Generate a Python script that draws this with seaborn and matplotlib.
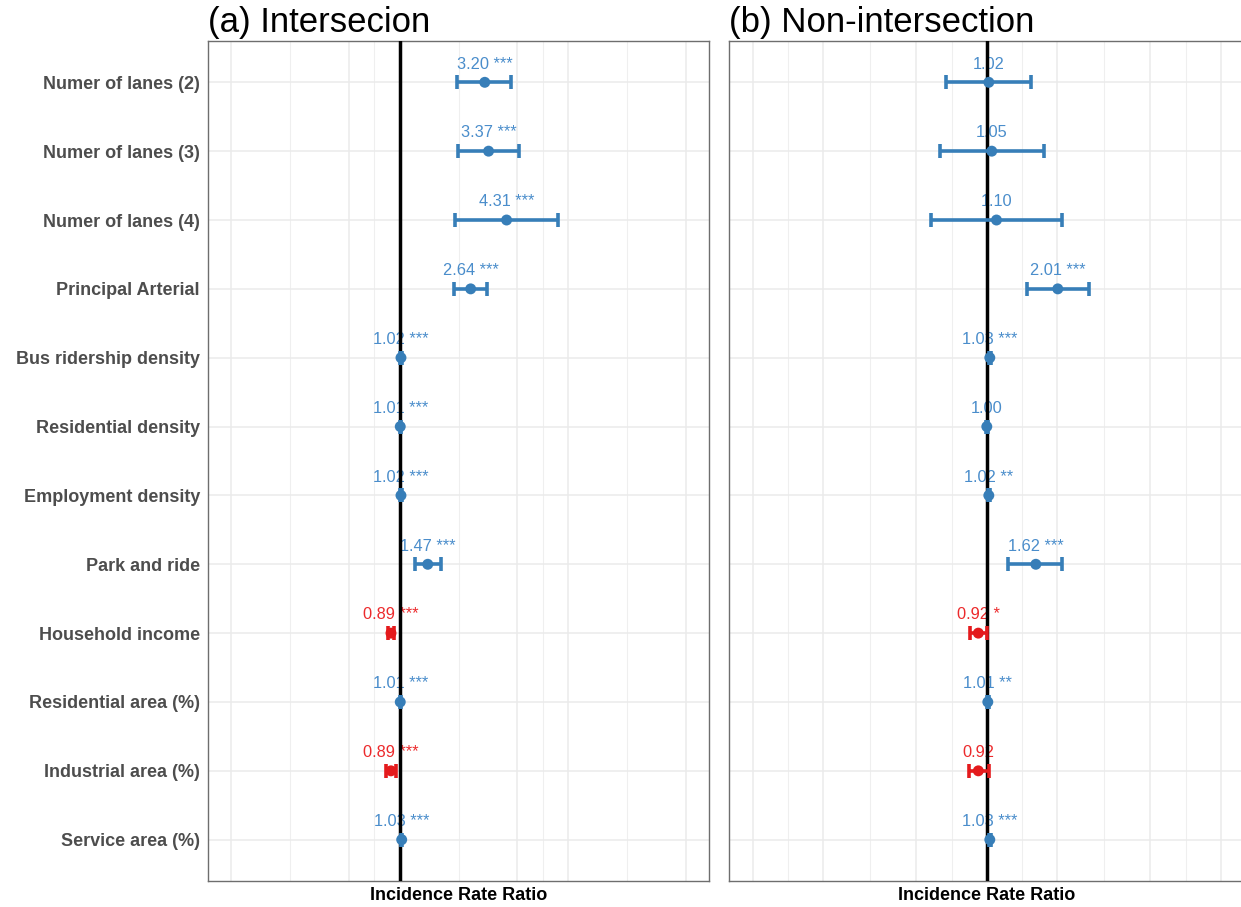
import numpy as np
import pandas as pd
import matplotlib
matplotlib.use("Agg")
import matplotlib.pyplot as plt
from matplotlib.ticker import FixedLocator, NullFormatter
import seaborn as sns

# Model terms (top to bottom)
variables = [
    "Numer of lanes (2)", "Numer of lanes (3)", "Numer of lanes (4)",
    "Principal Arterial", "Bus ridership density", "Residential density",
    "Employment density", "Park and ride", "Household income",
    "Residential area (%)", "Industrial area (%)", "Service area (%)",
]

# (a) Intersection model: incidence rate ratios with 95% CI
int_irr = [3.20, 3.37, 4.31, 2.64, 1.02, 1.01, 1.02, 1.47, 0.89, 1.01, 0.89, 1.03]
int_low = [2.20, 2.23, 2.13, 2.10, 1.01, 1.00, 1.01, 1.23, 0.85, 1.00, 0.83, 1.02]
int_high = [4.59, 5.08, 8.66, 3.30, 1.03, 1.02, 1.03, 1.75, 0.93, 1.02, 0.95, 1.04]
int_sig = ["***", "***", "***", "***", "***", "***", "***", "***", "***", "***", "***", "***"]

# (b) Non-intersection model
non_irr = [1.02, 1.05, 1.10, 2.01, 1.03, 1.00, 1.02, 1.62, 0.92, 1.01, 0.92, 1.03]
non_low = [0.67, 0.63, 0.58, 1.48, 1.02, 0.99, 1.01, 1.23, 0.85, 1.00, 0.84, 1.02]
non_high = [1.54, 1.75, 2.10, 2.72, 1.04, 1.01, 1.03, 2.10, 1.00, 1.02, 1.02, 1.04]
non_sig = ["", "", "", "***", "***", "", "**", "***", "*", "**", "", "***"]

titles = ["(a) Intersecion", "(b) Non-intersection"]
x_label = "Incidence Rate Ratio"

POINT = {"up": "#377EB8", "down": "#E41A1C"}
TEXT = {"up": "#4A8DCB", "down": "#EC2A2C"}

sns.set_theme(style="white")
plt.rcParams["font.family"] = ["Liberation Sans", "DejaVu Sans"]

W, H = 1241, 907
fig = plt.figure(figsize=(W / 100, H / 100), dpi=100)
ax_a = fig.add_axes([208 / W, 26 / H, 501 / W, 840 / H])
ax_b = fig.add_axes([729.3 / W, 26 / H, 515 / W, 840 / H])


def log_limits(lo, hi, pad=0.05):
    a, b = np.log10(lo), np.log10(hi)
    span = b - a
    return 10 ** (a - pad * span), 10 ** (b + pad * span)


def forest(ax, irr, low, high, sig, limits, majors, title, show_y, label_x):
    n = len(variables)
    df = pd.DataFrame({
        "term": variables,
        "row": np.arange(n),
        "irr": irr,
        "low": low,
        "high": high,
        "sig": sig,
    })
    df["dir"] = np.where(df["irr"] < 1, "down", "up")

    ax.set_xscale("log")
    ax.set_xlim(*log_limits(*limits))
    ax.set_ylim(n - 1 + 0.6, -0.6)

    # log-space midpoints between major breaks act as minor grid lines
    lm = np.log10(majors)
    minors = 10 ** ((lm[:-1] + lm[1:]) / 2)
    ax.xaxis.set_major_locator(FixedLocator(majors))
    ax.xaxis.set_minor_locator(FixedLocator(minors))
    ax.xaxis.set_major_formatter(NullFormatter())
    ax.xaxis.set_minor_formatter(NullFormatter())
    ax.grid(True, which="major", axis="both", color="#EBEBEB", lw=1.1, zorder=0)
    ax.grid(True, which="minor", axis="x", color="#EFEFEF", lw=0.8, zorder=0)
    ax.set_axisbelow(True)
    ax.tick_params(axis="x", which="both", length=0, labelbottom=False)

    ax.set_yticks(df["row"])
    if show_y:
        ax.set_yticklabels(df["term"], fontsize=13, fontweight="bold", color="#4D4D4D")
        ax.tick_params(axis="y", length=3.6, width=0.8, color="#555555", pad=2.2)
    else:
        ax.set_yticklabels([])
        ax.tick_params(axis="y", length=0)

    ax.axvline(1, color="black", lw=2.5, zorder=3)

    for d, g in df.groupby("dir"):
        ax.errorbar(g["irr"], g["row"],
                    xerr=[g["irr"] - g["low"], g["high"] - g["irr"]],
                    fmt="none", ecolor=POINT[d], elinewidth=2.6,
                    capsize=5, capthick=2.6, zorder=4)

    sns.scatterplot(data=df, x="irr", y="row", hue="dir", palette=POINT,
                    s=62, linewidth=0, legend=False, ax=ax, zorder=5)

    for _, r in df.iterrows():
        label = f"{r['irr']:.2f} {r['sig']}".rstrip()
        ax.text(r["irr"], r["row"] - 0.2, label, ha="center", va="baseline",
                fontsize=11.8, color=TEXT[r["dir"]], zorder=2.5)

    ax.set_title(title, loc="left", fontsize=25, pad=6.5, color="black")
    ax.set_xlabel("")
    ax.set_ylabel("")
    # axis title centred under the panel
    fig.text(label_x, (H - 896) / H, x_label, ha="center", va="center",
             fontsize=13, fontweight="bold", color="black")
    for sp in ax.spines.values():
        sp.set_visible(True)
        sp.set_color("#6E6E6E")
        sp.set_linewidth(1.0)


forest(ax_a, int_irr, int_low, int_high, int_sig, (0.1, 50),
       [0.1, 0.5, 1, 5, 10, 50], titles[0], True, 458.5 / W)
forest(ax_b, non_irr, non_low, non_high, non_sig, (0.1, 10),
       [0.1, 0.2, 0.5, 1, 2, 5, 10], titles[1], False, 986.5 / W)

fig.savefig("out.png", dpi=100, facecolor="white")
